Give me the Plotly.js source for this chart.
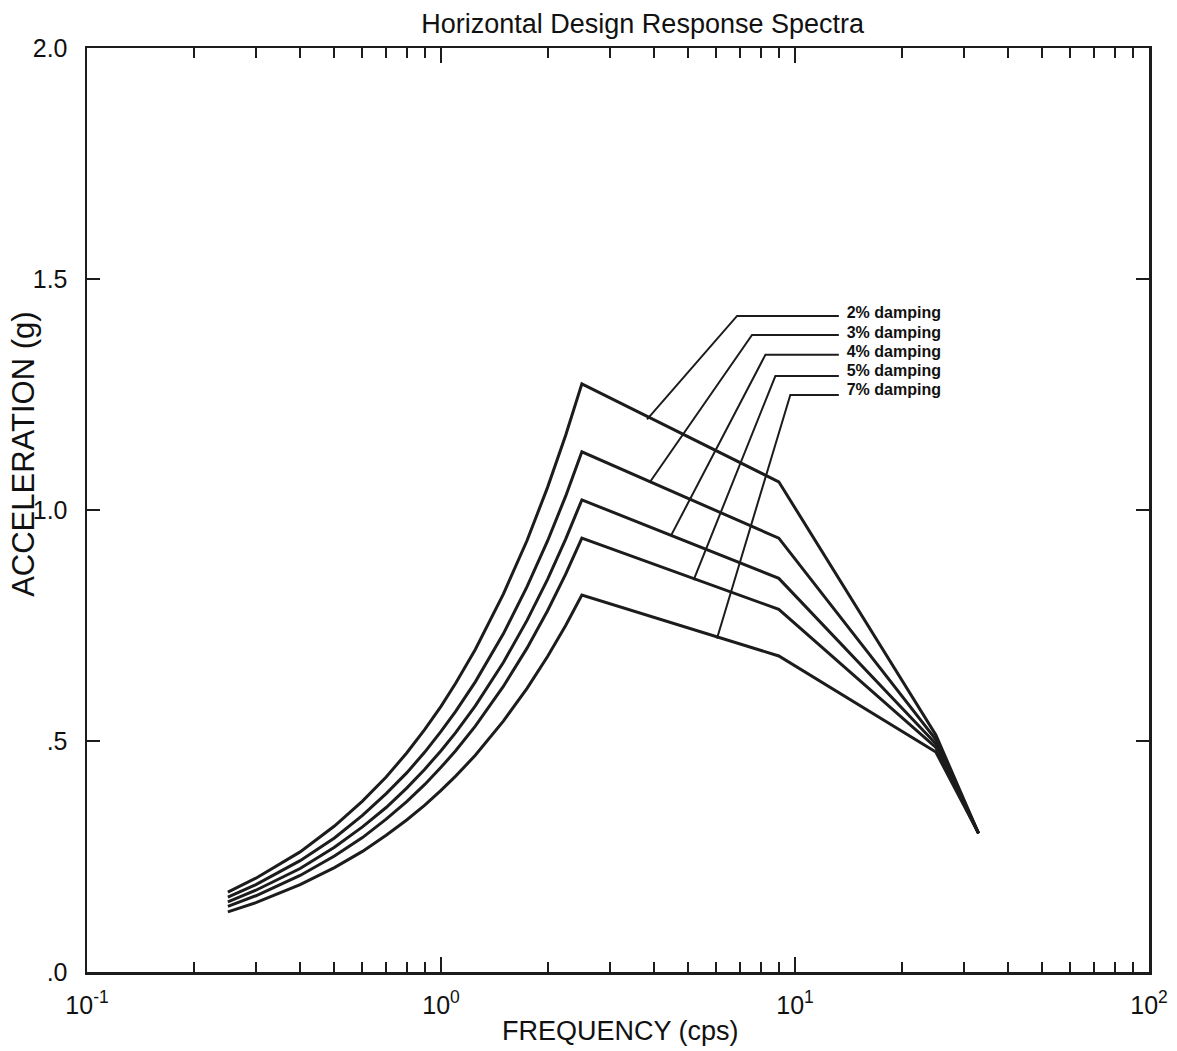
<!DOCTYPE html>
<html>
<head>
<meta charset="utf-8">
<script src="https://cdn.plot.ly/plotly-3.0.1.min.js"></script>
<style>html,body{margin:0;padding:0;background:#fff;}#chart{width:1177px;height:1051px;}</style>
</head>
<body>
<div id="chart"></div>
<script>
// Frequencies (cps) at which the curves were read
const freq = [0.25, 0.3, 0.4, 0.5, 0.6, 0.7, 0.8, 0.9, 1.0, 1.1, 1.25, 1.5, 1.75, 2.0, 2.25, 2.5, 9, 25, 33];
// Spectral acceleration (g) for each damping ratio
const damp2 = [0.173, 0.203, 0.260, 0.316, 0.370, 0.422, 0.474, 0.525, 0.575, 0.625, 0.698, 0.818, 0.934, 1.049, 1.162, 1.273, 1.061, 0.513, 0.300];
const damp3 = [0.162, 0.189, 0.241, 0.290, 0.339, 0.386, 0.431, 0.476, 0.521, 0.564, 0.628, 0.732, 0.834, 0.933, 1.030, 1.126, 0.939, 0.503, 0.300];
const damp4 = [0.152, 0.177, 0.224, 0.270, 0.314, 0.356, 0.398, 0.439, 0.479, 0.518, 0.576, 0.670, 0.761, 0.850, 0.937, 1.022, 0.852, 0.494, 0.300];
const damp5 = [0.142, 0.165, 0.209, 0.251, 0.291, 0.331, 0.369, 0.406, 0.443, 0.479, 0.532, 0.618, 0.701, 0.782, 0.861, 0.939, 0.785, 0.486, 0.300];
const damp7 = [0.130, 0.150, 0.189, 0.226, 0.261, 0.296, 0.329, 0.361, 0.393, 0.424, 0.469, 0.543, 0.614, 0.683, 0.750, 0.816, 0.684, 0.476, 0.300];

// Leader lines from each curve to its label
const leadX2 = [3.82, 6.86, 13.3], leadY2 = [1.196, 1.420, 1.420];
const leadX3 = [3.88, 7.56, 13.3], leadY3 = [1.059, 1.379, 1.379];
const leadX4 = [4.46, 8.25, 13.3], leadY4 = [0.944, 1.336, 1.336];
const leadX5 = [5.17, 8.80, 13.3], leadY5 = [0.848, 1.290, 1.290];
const leadX7 = [6.02, 9.70, 13.3], leadY7 = [0.722, 1.249, 1.249];

const labels = ['2% damping', '3% damping', '4% damping', '5% damping', '7% damping'];
const labelX = [14.0, 14.0, 14.0, 14.0, 14.0];
const labelY = [1.424, 1.382, 1.340, 1.298, 1.257];

const xMajor = [0.1, 1, 10, 100];
const xMajorText = ['10<sup>-1</sup>', '10<sup>0</sup>', '10<sup>1</sup>', '10<sup>2</sup>'];
const xMinor = [0.2,0.3,0.4,0.5,0.6,0.7,0.8,0.9, 2,3,4,5,6,7,8,9, 20,30,40,50,60,70,80,90];
const yTicks = [0, 0.5, 1.0, 1.5, 2.0];
const yTickText = ['.0', '.5', '1.0', '1.5', '2.0'];

const ink = '#1c1c1c';
const curveLine = {color: ink, width: 3};
const leadLine = {color: ink, width: 2};

const series = [damp2, damp3, damp4, damp5, damp7];
const leads = [[leadX2, leadY2], [leadX3, leadY3], [leadX4, leadY4], [leadX5, leadY5], [leadX7, leadY7]];

const traces = [];
series.forEach((ys, i) => {
  traces.push({x: freq, y: ys, mode: 'lines', line: curveLine, name: labels[i], showlegend: false, hoverinfo: 'x+y+name'});
});
leads.forEach((ld, i) => {
  traces.push({x: ld[0], y: ld[1], mode: 'lines', line: leadLine, showlegend: false, hoverinfo: 'skip'});
});
traces.push({
  x: labelX, y: labelY, mode: 'text',
  text: labels.map(t => '<b>' + t + '</b>'),
  textposition: 'middle right',
  textfont: {size: 16, color: '#111'},
  showlegend: false, hoverinfo: 'skip'
});
// empty trace so the minor-tick axis is drawn
traces.push({x: [], y: [], xaxis: 'x2', yaxis: 'y', mode: 'lines', showlegend: false, hoverinfo: 'skip'});

const font = {family: 'Liberation Sans, Arial, Helvetica, sans-serif', color: '#111', size: 24};

const layout = {
  width: 1177, height: 1051,
  margin: {l: 87, r: 28, t: 48, b: 79},
  paper_bgcolor: '#fff', plot_bgcolor: '#fff',
  font: font,
  showlegend: false,
  title: {
    text: 'Horizontal Design Response Spectra',
    font: {size: 27, color: '#111'},
    xref: 'container', x: 0.546, xanchor: 'center',
    yref: 'container', y: 0.978, yanchor: 'middle'
  },
  xaxis: {
    type: 'log', range: [-1, 2],
    tickvals: xMajor, ticktext: xMajorText,
    ticks: 'inside', ticklen: 15, tickwidth: 2, tickcolor: ink,
    showline: true, linewidth: 2.5, linecolor: ink, mirror: 'ticks',
    showgrid: false, zeroline: false,
    tickfont: {size: 25, color: '#111'},
    ticklabelstandoff: 9
  },
  xaxis2: {
    type: 'log', range: [-1, 2], overlaying: 'x', anchor: 'y', side: 'bottom',
    tickvals: xMinor, ticks: 'inside', ticklen: 10, tickwidth: 2, tickcolor: ink,
    showticklabels: false, showline: false, mirror: 'ticks',
    showgrid: false, zeroline: false
  },
  yaxis: {
    range: [0, 2],
    tickvals: yTicks, ticktext: yTickText,
    ticks: 'inside', ticklen: 13, tickwidth: 2, tickcolor: ink,
    showline: true, linewidth: 2.5, linecolor: ink, mirror: 'ticks',
    showgrid: false, zeroline: false,
    tickfont: {size: 25, color: '#111'},
    ticklabelstandoff: 12
  },
  annotations: [
    {text: 'ACCELERATION (g)', textangle: -90, xref: 'paper', yref: 'paper',
     x: -0.060, y: 0.560, xanchor: 'center', yanchor: 'middle', showarrow: false,
     font: {size: 31, color: '#111'}},
    {text: 'FREQUENCY (cps)', xref: 'paper', yref: 'paper',
     x: 0.502, y: -0.064, xanchor: 'center', yanchor: 'middle', showarrow: false,
     font: {size: 27, color: '#111'}}
  ]
};

Plotly.newPlot('chart', traces, layout, {displayModeBar: false, staticPlot: true});
</script>
</body>
</html>
